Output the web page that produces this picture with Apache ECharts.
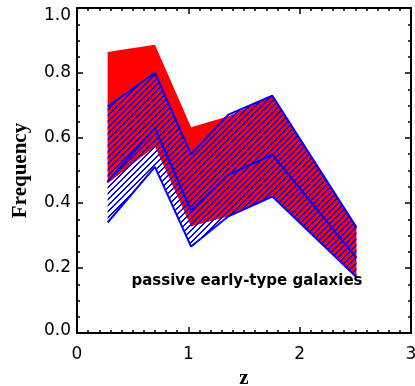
<!DOCTYPE html>
<html><head><meta charset="utf-8">
<script src="https://cdn.jsdelivr.net/npm/echarts@6/dist/echarts.min.js"></script>
<style>html,body{margin:0;padding:0;background:#fff}#c{width:415px;height:386px}</style>
</head><body><div id="c"></div>
<script>
// ---- data ----
const zValues    = [0.275, 0.700, 1.025, 1.360, 1.755, 2.510];
const redUpper   = [0.865, 0.887, 0.633, 0.667, 0.730, 0.328];
const redLower   = [0.460, 0.574, 0.328, 0.359, 0.420, 0.169];
const blueUpper  = [0.697, 0.800, 0.550, 0.672, 0.730, 0.325];
const blueMiddle = [0.466, 0.631, 0.377, 0.487, 0.549, 0.231];
const blueLower  = [0.340, 0.511, 0.266, 0.359, 0.420, 0.172];
const xTickLabels = ['0', '1', '2', '3'];
const yTickLabels = ['0.0', '0.2', '0.4', '0.6', '0.8', '1.0'];
const annotation = 'passive early-type galaxies';

function pairs(xs, ys) { return xs.map((x, i) => [x, ys[i]]); }

// crisp (non antialiased) 45 degree line fill
function hatchPattern() {
  const P = 6, s = 12, c = document.createElement('canvas');
  c.width = s; c.height = s;
  const g = c.getContext('2d');
  const img = g.createImageData(s, s);
  for (let y = 0; y < s; y++) for (let x = 0; x < s; x++) {
    const k = ((x + y) % P);
    if (k < 2) { const o = (y * s + x) * 4; img.data[o] = 0; img.data[o+1] = 0; img.data[o+2] = 255; img.data[o+3] = 255; }
  }
  g.putImageData(img, 0, 0);
  return c;
}

function bandSeries(upper, lower, fill, z) {
  return {
    type: 'custom', silent: true, z: z, clip: true,
    data: zValues.map((x, i) => [x, lower[i], upper[i]]),
    encode: {x: 0, y: [1, 2]},
    renderItem: function (params, api) {
      if (params.dataIndex !== 0) return null;
      const pts = [];
      for (let i = 0; i < zValues.length; i++) pts.push(api.coord([zValues[i], upper[i]]));
      for (let i = zValues.length - 1; i >= 0; i--) pts.push(api.coord([zValues[i], lower[i]]));
      return {type: 'polygon', shape: {points: pts}, style: {fill: fill, stroke: null}};
    }
  };
}

const chart = echarts.init(document.getElementById('c'), null, {renderer: 'canvas'});
const black = '#000';
const tickStyle = {color: black, width: 1.5};
function xAxisDef(pos, showLabel) {
  return {
    type: 'value', min: 0, max: 3, interval: 1, position: pos,
    axisLine: {show: true, onZero: false, lineStyle: {color: black, width: 2}},
    axisTick: {show: true, inside: true, length: 6, lineStyle: tickStyle},
    minorTick: {show: true, splitNumber: 10, length: 3, lineStyle: tickStyle},
    splitLine: {show: false}, minorSplitLine: {show: false},
    axisLabel: {show: showLabel, margin: 13, color: black, fontFamily: 'DejaVu Sans', fontSize: 17,
      formatter: v => xTickLabels[Math.round(v)]},
    name: showLabel ? 'z' : '', nameLocation: 'middle', nameGap: 33,
    nameTextStyle: {color: black, fontFamily: 'Liberation Serif', fontWeight: 'bold', fontSize: 21}
  };
}
function yAxisDef(pos, showLabel) {
  return {
    type: 'value', min: 0, max: 1, interval: 0.2, position: pos,
    axisLine: {show: true, onZero: false, lineStyle: {color: black, width: 2}},
    axisTick: {show: true, inside: true, length: 6, lineStyle: tickStyle},
    minorTick: {show: true, splitNumber: 4, length: 3, lineStyle: tickStyle},
    splitLine: {show: false}, minorSplitLine: {show: false},
    axisLabel: {show: showLabel, margin: 6, color: black, fontFamily: 'DejaVu Sans', fontSize: 17,
      formatter: v => {
        const i = Math.round(v * 5);
        if (i === 5) return '{top|' + yTickLabels[i] + '}';
        if (i === 0) return '{bot|' + yTickLabels[i] + '}';
        return yTickLabels[i];
      },
      rich: {
        top: {padding: [16, 0, 0, 0], fontFamily: 'DejaVu Sans', fontSize: 17, color: black},
        bot: {padding: [0, 0, 5, 0], fontFamily: 'DejaVu Sans', fontSize: 17, color: black}
      }},
    name: showLabel ? 'Frequency' : '', nameLocation: 'middle', nameGap: 46,
    nameTextStyle: {color: black, fontFamily: 'Liberation Serif', fontWeight: 'bold', fontSize: 21}
  };
}
function lineSeries(vals) {
  return {type: 'line', data: pairs(zValues, vals), symbol: 'none', silent: true, z: 3,
    lineStyle: {color: '#0000ff', width: 2}};
}
const option = {
  animation: false,
  grid: {left: 77, right: 4, top: 8, bottom: 53, containLabel: false, outerBoundsMode: 'none'},
  xAxis: [xAxisDef('bottom', true), xAxisDef('top', false)],
  yAxis: [yAxisDef('left', true), yAxisDef('right', false)],
  series: [
    bandSeries(redUpper, redLower, '#ff0000', 1),
    bandSeries(blueUpper, blueLower, {image: hatchPattern(), repeat: 'repeat'}, 2),
    lineSeries(blueUpper),
    lineSeries(blueMiddle),
    lineSeries(blueLower)
  ],
  graphic: [{
    type: 'text', x: 247, y: 281, z: 10,
    style: {text: annotation, align: 'center', verticalAlign: 'middle',
      font: 'bold 15px "DejaVu Sans"', fill: black}
  }]
};
chart.setOption(option);
</script></body></html>
